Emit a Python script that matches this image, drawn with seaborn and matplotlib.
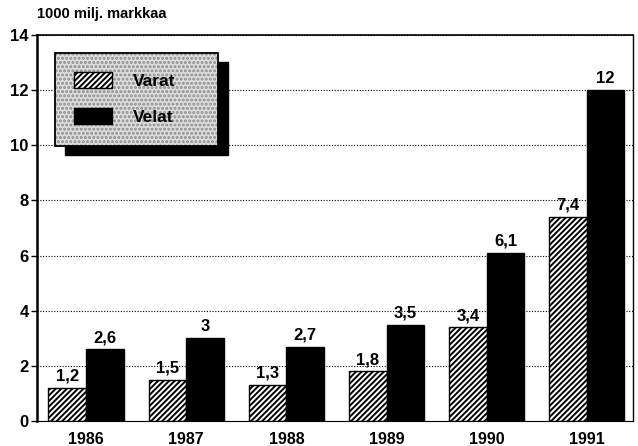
import matplotlib
matplotlib.use("Agg")
import matplotlib.pyplot as plt
from matplotlib.patches import Rectangle, Patch
import seaborn as sns
import pandas as pd

years = ["1986", "1987", "1988", "1989", "1990", "1991"]
varat = [1.2, 1.5, 1.3, 1.8, 3.4, 7.4]
velat = [2.6, 3.0, 2.7, 3.5, 6.1, 12.0]
series = ["Varat", "Velat"]
y_ticks = [0, 2, 4, 6, 8, 10, 12, 14]
unit_label = "1000 milj. markkaa"

df = pd.DataFrame({
    "year": years * 2,
    "value": varat + velat,
    "series": [series[0]] * len(years) + [series[1]] * len(years),
})

sns.set_theme(style="white")
plt.rcParams["font.family"] = ["Liberation Sans", "DejaVu Sans"]
plt.rcParams["font.weight"] = "bold"
plt.rcParams["hatch.linewidth"] = 1.4
plt.rcParams["text.color"] = "black"
plt.rcParams["xtick.color"] = "black"
plt.rcParams["ytick.color"] = "black"
plt.rcParams["axes.labelcolor"] = "black"

W, H = 638, 446
ax_l, ax_r, ax_t, ax_b = 37, 633, 35, 421
fig = plt.figure(figsize=(W / 100, H / 100), dpi=100)
ax = fig.add_axes([ax_l / W, (H - ax_b) / H, (ax_r - ax_l) / W, (ax_b - ax_t) / H])

sns.barplot(data=df, x="year", y="value", hue="series", order=years,
            hue_order=series, palette=["white", "black"], width=0.75,
            edgecolor="black", linewidth=1.0, saturation=1, legend=False, ax=ax)

for p in ax.containers[0]:
    p.set_hatch("//////")
    p.set_facecolor("white")
    p.set_edgecolor("black")

def fmt(v):
    s = f"{v:.1f}".replace(".", ",")
    return s[:-2] if s.endswith(",0") else s

for cont, vals in zip(ax.containers, [varat, velat]):
    ax.bar_label(cont, labels=[fmt(v) for v in vals], padding=3,
                 fontsize=12, fontweight="bold", color="black")

ax.set_xlim(-0.489, 5.46)
ax.set_ylim(0, 14)
ax.set_yticks(y_ticks)
ax.set_yticklabels([str(t) for t in y_ticks], fontsize=12, fontweight="bold",
                   color="black")
ax.tick_params(axis="y", left=True, length=4, width=1, color="black",
               labelcolor="black", pad=2)
ax.tick_params(axis="x", bottom=False, labelsize=11.5, labelcolor="black", pad=2)
for lbl in ax.get_xticklabels():
    lbl.set_fontweight("bold")
ax.set_xlabel("")
ax.set_ylabel("")
ax.set_axisbelow(True)
ax.yaxis.grid(True, linestyle=(0, (1, 1.5)), color="black", linewidth=0.8)
ax.xaxis.grid(False)

for side in ["left", "bottom", "top", "right"]:
    ax.spines[side].set_visible(True)
    ax.spines[side].set_color("black")
ax.spines["left"].set_linewidth(1.8)
ax.spines["bottom"].set_linewidth(0.8)
ax.spines["top"].set_linewidth(1.2)
ax.spines["right"].set_linewidth(1.0)

ax.text(0.0, 1.035, unit_label, transform=ax.transAxes, fontsize=10.5,
        fontweight="bold", ha="left", va="bottom", color="black")

# legend box with shadow
aw, ah = ax_r - ax_l, ax_b - ax_t
lx0, lx1 = (55 - ax_l) / aw, (218 - ax_l) / aw
ly0, ly1 = (ax_b - 146) / ah, (ax_b - 53) / ah
dx, dy = 10 / aw, 9 / ah
ax.add_patch(Rectangle((lx0 + dx, ly0 - dy), lx1 - lx0, ly1 - ly0,
                       transform=ax.transAxes, facecolor="black",
                       edgecolor="black", zorder=5))
ax.add_patch(Rectangle((lx0, ly0), lx1 - lx0, ly1 - ly0, transform=ax.transAxes,
                       facecolor="#dcdcdc", edgecolor="#8a8a8a", hatch="....",
                       linewidth=0, zorder=6))
ax.add_patch(Rectangle((lx0, ly0), lx1 - lx0, ly1 - ly0, transform=ax.transAxes,
                       facecolor="none", edgecolor="black", linewidth=1.3, zorder=7))

handles = [Patch(facecolor="white", edgecolor="black", hatch="//////", linewidth=1),
           Patch(facecolor="black", edgecolor="black", linewidth=1)]
leg = ax.legend(handles, series, loc="upper left",
                bbox_to_anchor=((60 - ax_l) / aw, (ax_b - 58) / ah),
                frameon=False, fontsize=12.5, handlelength=2.2, handleheight=1.05,
                labelspacing=1.1, handletextpad=1.2, borderpad=0.3)
for t in leg.get_texts():
    t.set_fontweight("bold")
    t.set_color("black")
leg.set_zorder(8)

fig.savefig("out.png", dpi=100)
